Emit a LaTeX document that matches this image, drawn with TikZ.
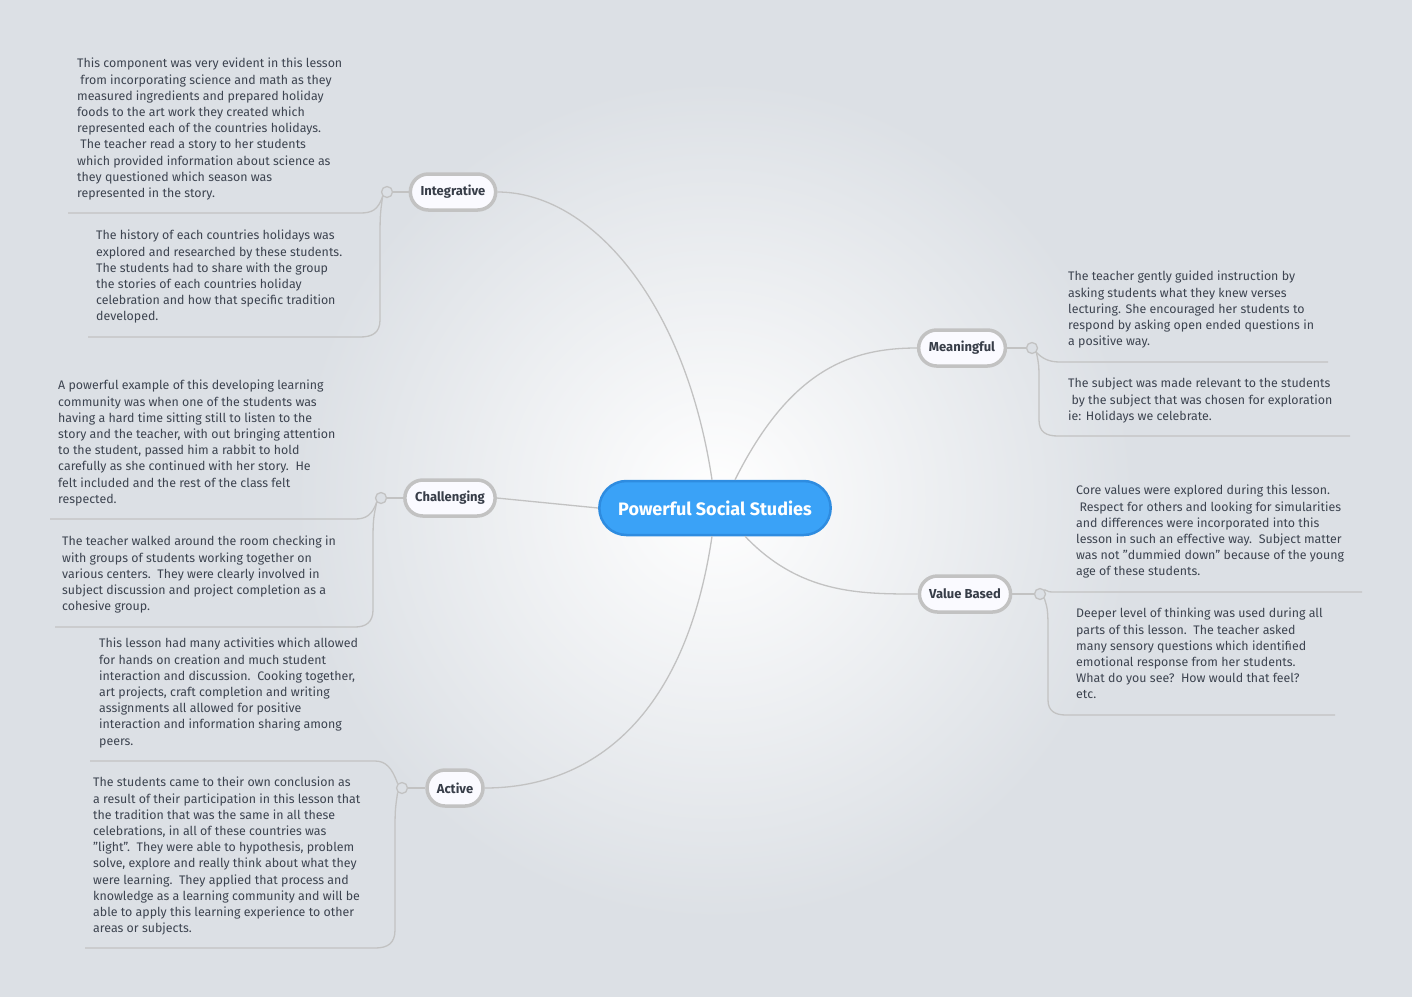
\documentclass[tikz,border=0pt]{standalone}
\usepackage{fontspec}
\setmainfont{Fira Sans}
\usetikzlibrary{shapes.misc}
\definecolor{bgc}{HTML}{DCE0E5}
\definecolor{lnc}{HTML}{C2C2C2}
\definecolor{txc}{HTML}{3D4450}
\definecolor{blu}{HTML}{3AA2F7}
\definecolor{blud}{HTML}{2E8CE0}
\tikzset{
  x=1pt,y=-1pt,
  br/.style={rounded rectangle,draw=lnc,line width=3.5pt,fill=blue!2,minimum height=36pt,inner xsep=9pt,font=\fontsize{13}{15}\selectfont\bfseries,text=txc!90!black},
  ct/.style={rounded rectangle,draw=blud,line width=2.5pt,fill=blu,minimum height=54pt,minimum width=238pt,font=\fontsize{18}{20}\selectfont\bfseries,text=white},
  tx/.style={anchor=north west,inner sep=0pt,align=left,font=\fontsize{12.4}{16.2}\selectfont,text=txc},
  ln/.style={draw=lnc,line width=1.3pt},
  dot/.style={circle,draw=lnc,line width=1.3pt,fill=bgc,inner sep=0pt,minimum size=11pt},
}
\begin{document}
\begin{tikzpicture}
\useasboundingbox (0,0) rectangle (1412,997);
\fill[bgc] (0,0) rectangle (1412,997);
\shade[inner color=white,outer color=bgc] (715,500) circle (420);
% centre
\node[ct] (c) at (715,508) {Powerful Social Studies};
\node[br] (int) at (453,192) {Integrative};
\node[br] (cha) at (450,498) {Challenging};
\node[br] (act) at (455,788) {Active};
\node[br] (mea) at (962,348) {Meaningful};
\node[br] (val) at (965,594) {Value Based};
% main connectors
\draw[ln] ([xshift=-3pt]c.north) .. controls (685,300) and (590,192) .. (int.east);
\draw[ln] (c.west) -- (cha.east);
\draw[ln] ([xshift=-3pt]c.south) .. controls (685,720) and (590,788) .. (act.east);
\draw[ln] ([xshift=20pt]c.north) .. controls (790,370) and (850,348) .. (mea.west);
\draw[ln] ([xshift=30pt]c.south) .. controls (800,594) and (860,594) .. (val.west);
% dots
\node[dot] (d1) at (387,192) {};
\node[dot] (d2) at (381,498) {};
\node[dot] (d3) at (402,788) {};
\node[dot] (d4) at (1032,348) {};
\node[dot] (d5) at (1040,594) {};
\draw[ln] (d1) -- (int.west);
\draw[ln] (d2) -- (cha.west);
\draw[ln] (d3) -- (act.west);
\draw[ln] (d4) -- (mea.east);
\draw[ln] (d5) -- (val.east);
\coordinate (e1) at (68,213);
\coordinate (e2) at (88,337);
\coordinate (e3) at (50,519);
\coordinate (e4) at (55,627);
\coordinate (e5) at (90,761);
\coordinate (e6) at (85,948);
\coordinate (e7) at (1328,362);
\coordinate (e8) at (1350,436);
\coordinate (e9) at (1362,592);
\coordinate (e10) at (1335,715);
% sub connectors left
\draw[ln] (d1.south west) .. controls (378,210) and (372,213) .. (360,213) -- (e1);
\draw[ln] (d1.south west) .. controls (380,215) .. (380,250) -- (380,320) .. controls (380,333) and (372,337) .. (360,337) -- (e2);
\draw[ln] (d2.south west) .. controls (372,515) and (366,519) .. (355,519) -- (e3);
\draw[ln] (d2.south west) .. controls (373,520) .. (373,550) -- (373,610) .. controls (373,622) and (366,627) .. (355,627) -- (e4);
\draw[ln] (d3.north west) .. controls (392,768) and (386,761) .. (375,761) -- (e5);
\draw[ln] (d3.south west) .. controls (395,810) .. (395,840) -- (395,930) .. controls (395,943) and (388,948) .. (375,948) -- (e6);
% sub connectors right
\draw[ln] (d4.south east) .. controls (1042,358) and (1048,362) .. (1060,362) -- (e7);
\draw[ln] (d4.south east) .. controls (1039,365) .. (1039,385) -- (1039,420) .. controls (1039,432) and (1046,436) .. (1058,436) -- (e8);
\draw[ln] (d5.north east) .. controls (1048,592) .. (1060,592) -- (e9);
\draw[ln] (d5.south east) .. controls (1048,610) .. (1048,640) -- (1048,700) .. controls (1048,711) and (1055,715) .. (1066,715) -- (e10);
% texts
\node[tx] (t1) at (77,58) {This component was very evident in this lesson\\ \ from incorporating science and math as they\\measured ingredients and prepared holiday\\foods to the art work they created which\\represented each of the countries holidays.\\ \ The teacher read a story to her students\\which provided information about science as\\they questioned which season was\\represented in the story.};
\node[tx] (t2) at (96,230) {The history of each countries holidays was\\explored and researched by these students.\\The students had to share with the group\\the stories of each countries holiday\\celebration and how that specific tradition\\developed.};
\node[tx] (t3) at (58,380) {A powerful example of this developing learning\\community was when one of the students was\\having a hard time sitting still to listen to the\\story and the teacher, with out bringing attention\\to the student, passed him a rabbit to hold\\carefully as she continued with her story.\ \ He\\felt included and the rest of the class felt\\respected.};
\node[tx] (t4) at (62,536) {The teacher walked around the room checking in\\with groups of students working together on\\various centers.\ \ They were clearly involved in\\subject discussion and project completion as a\\cohesive group.};
\node[tx] (t5) at (99,638) {This lesson had many activities which allowed\\for hands on creation and much student\\interaction and discussion.\ \ Cooking together,\\art projects, craft completion and writing\\assignments all allowed for positive\\interaction and information sharing among\\peers.};
\node[tx] (t6) at (93,777) {The students came to their own conclusion as\\a result of their participation in this lesson that\\the tradition that was the same in all these\\celebrations, in all of these countries was\\"light".\ \ They were able to hypothesis, problem\\solve, explore and really think about what they\\were learning.\ \ They applied that process and\\knowledge as a learning community and will be\\able to apply this learning experience to other\\areas or subjects.};
\node[tx] (t7) at (1068,271) {The teacher gently guided instruction by\\asking students what they knew verses\\lecturing. She encouraged her students to\\respond by asking open ended questions in\\a positive way.};
\node[tx] (t8) at (1068,378) {The subject was made relevant to the students\\ \ by the subject that was chosen for exploration\\ie: Holidays we celebrate.};
\node[tx] (t9) at (1076,485) {Core values were explored during this lesson.\\ \ Respect for others and looking for simularities\\and differences were incorporated into this\\lesson in such an effective way.\ \ Subject matter\\was not "dummied down" because of the young\\age of these students.};
\node[tx] (t10) at (1076,608) {Deeper level of thinking was used during all\\parts of this lesson.\ \ The teacher asked\\many sensory questions which identified\\emotional response from her students.\\What do you see?\ \ How would that feel?\\etc.};
\end{tikzpicture}
\end{document}
